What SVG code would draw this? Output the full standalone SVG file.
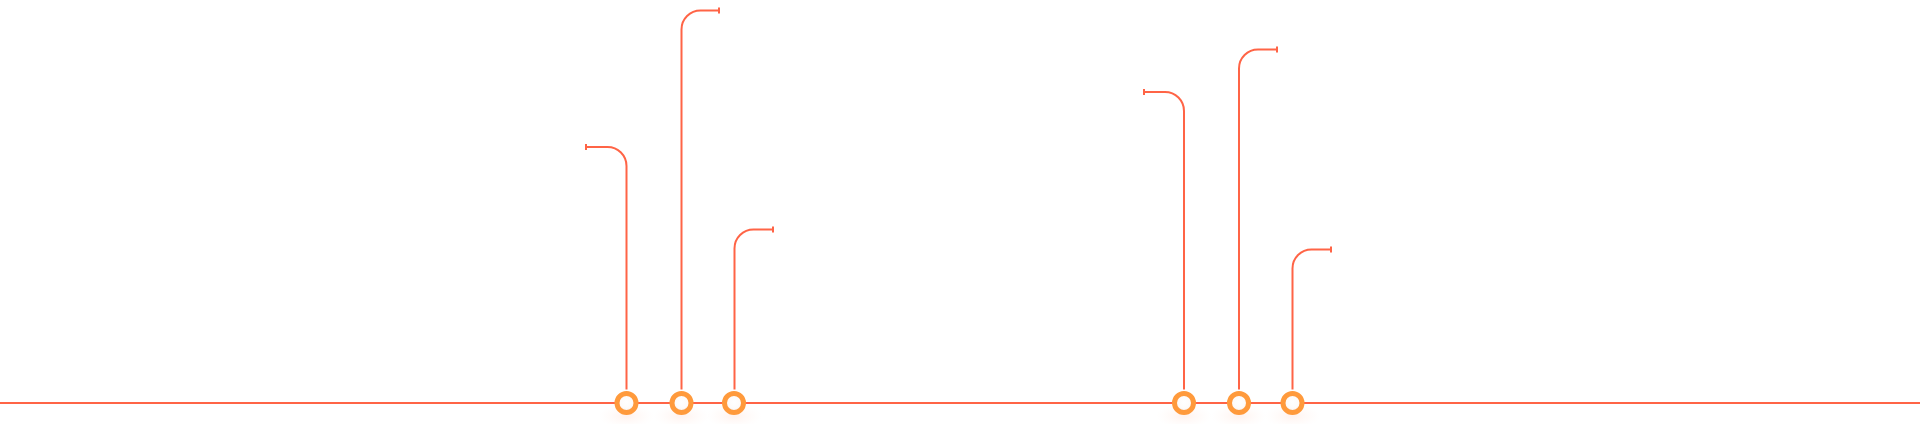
<svg xmlns="http://www.w3.org/2000/svg" width="1920" height="424" viewBox="0 0 1920 424">
<defs>
<style>
.ln{fill:none;stroke:#ff6446;stroke-width:2;}
.tk{stroke:#ff6446;stroke-width:2;}
.dot{fill:url(#inner);stroke:#ff9a3c;stroke-width:5;}
.glow{fill:url(#glow);}
</style>
<radialGradient id="inner" cx="0.5" cy="0.45" r="0.55">
<stop offset="0" stop-color="#ffffff"/>
<stop offset="0.6" stop-color="#fdfbfa"/>
<stop offset="1" stop-color="#f1e6e2"/>
</radialGradient>
<radialGradient id="glow" cx="0.5" cy="0.5" r="0.5">
<stop offset="0" stop-color="#ffece6" stop-opacity="0.7"/>
<stop offset="1" stop-color="#fff6f3" stop-opacity="0"/>
</radialGradient>
</defs>
<rect width="1920" height="424" fill="#ffffff"/>
<g id="connectors">
<line class="ln" x1="0" y1="403" x2="1920" y2="403"/>
<path class="ln" d="M626.5 389.5 V166 A19 19 0 0 0 607.5 147 H586"/>
<line class="tk" x1="586" y1="144" x2="586" y2="150"/>
<path class="ln" d="M681.5 389.5 V29.5 A19 19 0 0 1 700.5 10.5 H719"/>
<line class="tk" x1="719" y1="7.5" x2="719" y2="13.5"/>
<path class="ln" d="M734.5 389.5 V248.5 A19 19 0 0 1 753.5 229.5 H773"/>
<line class="tk" x1="773" y1="226.5" x2="773" y2="232.5"/>
<path class="ln" d="M1184 389.5 V111 A19 19 0 0 0 1165 92 H1144"/>
<line class="tk" x1="1144" y1="89" x2="1144" y2="95"/>
<path class="ln" d="M1239 389.5 V68.5 A19 19 0 0 1 1258 49.5 H1277"/>
<line class="tk" x1="1277" y1="46.5" x2="1277" y2="52.5"/>
<path class="ln" d="M1292.5 389.5 V268.5 A19 19 0 0 1 1311.5 249.5 H1331"/>
<line class="tk" x1="1331" y1="246.5" x2="1331" y2="252.5"/>
</g>
<g id="node1"><ellipse class="glow" cx="626.5" cy="416" rx="28" ry="12"/><circle class="dot" cx="626.5" cy="403" r="9.5"/></g>
<g id="node2"><ellipse class="glow" cx="681.5" cy="416" rx="28" ry="12"/><circle class="dot" cx="681.5" cy="403" r="9.5"/></g>
<g id="node3"><ellipse class="glow" cx="734" cy="416" rx="28" ry="12"/><circle class="dot" cx="734" cy="403" r="9.5"/></g>
<g id="node4"><ellipse class="glow" cx="1184" cy="416" rx="28" ry="12"/><circle class="dot" cx="1184" cy="403" r="9.5"/></g>
<g id="node5"><ellipse class="glow" cx="1239" cy="416" rx="28" ry="12"/><circle class="dot" cx="1239" cy="403" r="9.5"/></g>
<g id="node6"><ellipse class="glow" cx="1292.5" cy="416" rx="28" ry="12"/><circle class="dot" cx="1292.5" cy="403" r="9.5"/></g>
</svg>
